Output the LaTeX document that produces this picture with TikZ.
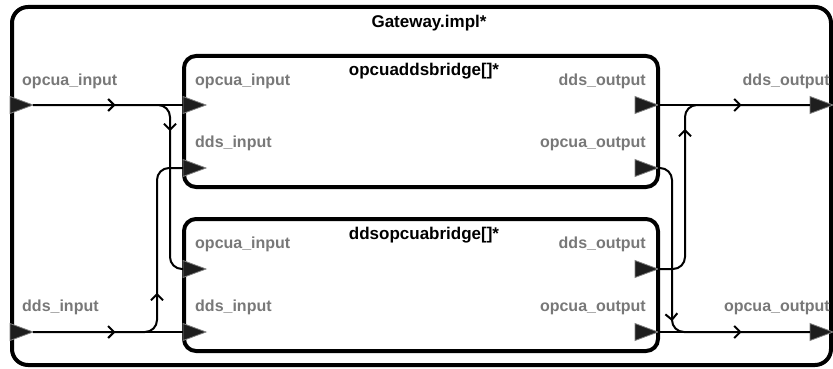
\documentclass[tikz,border=0pt]{standalone}
\usepackage{fontspec}
\setmainfont{Liberation Sans}
\usetikzlibrary{shapes.geometric,arrows.meta,decorations.markings,calc}

\definecolor{portgray}{RGB}{120,120,120}
\definecolor{portfill}{RGB}{30,30,30}

\tikzset{
  block/.style={draw, line width=4pt, rounded corners=12pt},
  port/.style={isosceles triangle, isosceles triangle stretches, shape border rotate=0,
    minimum width=17pt, minimum height=23pt, inner sep=0pt, outer sep=0pt,
    fill=portfill, draw=gray, line width=0.8pt},
  portlabel/.style={text=portgray, font=\bfseries\fontsize{16}{16}\selectfont, inner sep=0pt},
  title/.style={font=\bfseries\fontsize{17}{17}\selectfont, inner sep=0pt},
  wire/.style={line width=2pt, rounded corners=12pt},
  flow/.style={postaction={decorate}, decoration={markings,
    mark=at position #1 with {\arrow{Straight Barb[length=6pt,width=12pt]}}}}
}

\begin{document}
\begin{tikzpicture}[x=1pt,y=-1pt]
\useasboundingbox (0,0) rectangle (833,369);

% the three components
\draw[block, rounded corners=16pt] (12,7) rectangle (831,365);
\draw[block] (184,56) rectangle (658,187);
\draw[block] (184,219) rectangle (658,351);
\node[title, anchor=base] (gwname) at (429,28) {Gateway.impl*};
\node[title, anchor=base] (o2dname) at (424,76) {opcuaddsbridge[]*};
\node[title, anchor=base] (d2oname) at (424,239) {ddsopcuabridge[]*};

% ports of Gateway
\node[port, anchor=west] (gwopcuain) at (10,105) {};
\node[port, anchor=west] (gwddsin) at (10,332) {};
\node[port, anchor=west] (gwddsout) at (810,105) {};
\node[port, anchor=west] (gwopcuaout) at (810,332) {};
\node[portlabel, anchor=base west] (lgwopcuain) at (22,85) {opcua\_input};
\node[portlabel, anchor=base west] (lgwddsin) at (22,311) {dds\_input};
\node[portlabel, anchor=base east] (lgwddsout) at (830,85) {dds\_output};
\node[portlabel, anchor=base east] (lgwopcuaout) at (830,311) {opcua\_output};

% ports of opcuaddsbridge
\node[port, anchor=west] (o2dopcuain) at (183,105) {};
\node[port, anchor=west] (o2dddsin) at (183,168) {};
\node[port, anchor=apex] (o2dddsout) at (658,105) {};
\node[port, anchor=apex] (o2dopcuaout) at (658,168) {};
\node[portlabel, anchor=base west] (lo2dopcuain) at (195,85) {opcua\_input};
\node[portlabel, anchor=base west] (lo2dddsin) at (195,147) {dds\_input};
\node[portlabel, anchor=base east] (lo2dddsout) at (646,85) {dds\_output};
\node[portlabel, anchor=base east] (lo2dopcuaout) at (646,147) {opcua\_output};

% ports of ddsopcuabridge
\node[port, anchor=west] (d2oopcuain) at (183,269) {};
\node[port, anchor=west] (d2oddsin) at (183,332) {};
\node[port, anchor=apex] (d2oddsout) at (658,269) {};
\node[port, anchor=apex] (d2oopcuaout) at (658,332) {};
\node[portlabel, anchor=base west] (ld2oopcuain) at (195,248) {opcua\_input};
\node[portlabel, anchor=base west] (ld2oddsin) at (195,311) {dds\_input};
\node[portlabel, anchor=base east] (ld2oddsout) at (646,248) {dds\_output};
\node[portlabel, anchor=base east] (ld2oopcuaout) at (646,311) {opcua\_output};

% connections
\draw[wire, flow=0.55] (gwopcuain.apex) -- (o2dopcuain.west);
\draw[wire, flow=158pt] (gwopcuain.apex) -| ($(d2oopcuain.west)-(13,0)$) -- (d2oopcuain.west);
\draw[wire, flow=0.55] (gwddsin.apex) -- (d2oddsin.west);
\draw[wire, flow=158pt] (gwddsin.apex) -| ($(o2dddsin.west)-(26,0)$) -- (o2dddsin.west);
\draw[wire, flow=0.55] (o2dddsout.apex) -- (gwddsout.west);
\draw[wire, flow=162pt] (d2oddsout.apex) -| ($(o2dddsout.apex)+(27,0)$) -- (gwddsout.west);
\draw[wire, flow=0.55] (d2oopcuaout.apex) -- (gwopcuaout.west);
\draw[wire, flow=162pt] (o2dopcuaout.apex) -| ($(d2oopcuaout.apex)+(14,0)$) -- (gwopcuaout.west);
\end{tikzpicture}
\end{document}
